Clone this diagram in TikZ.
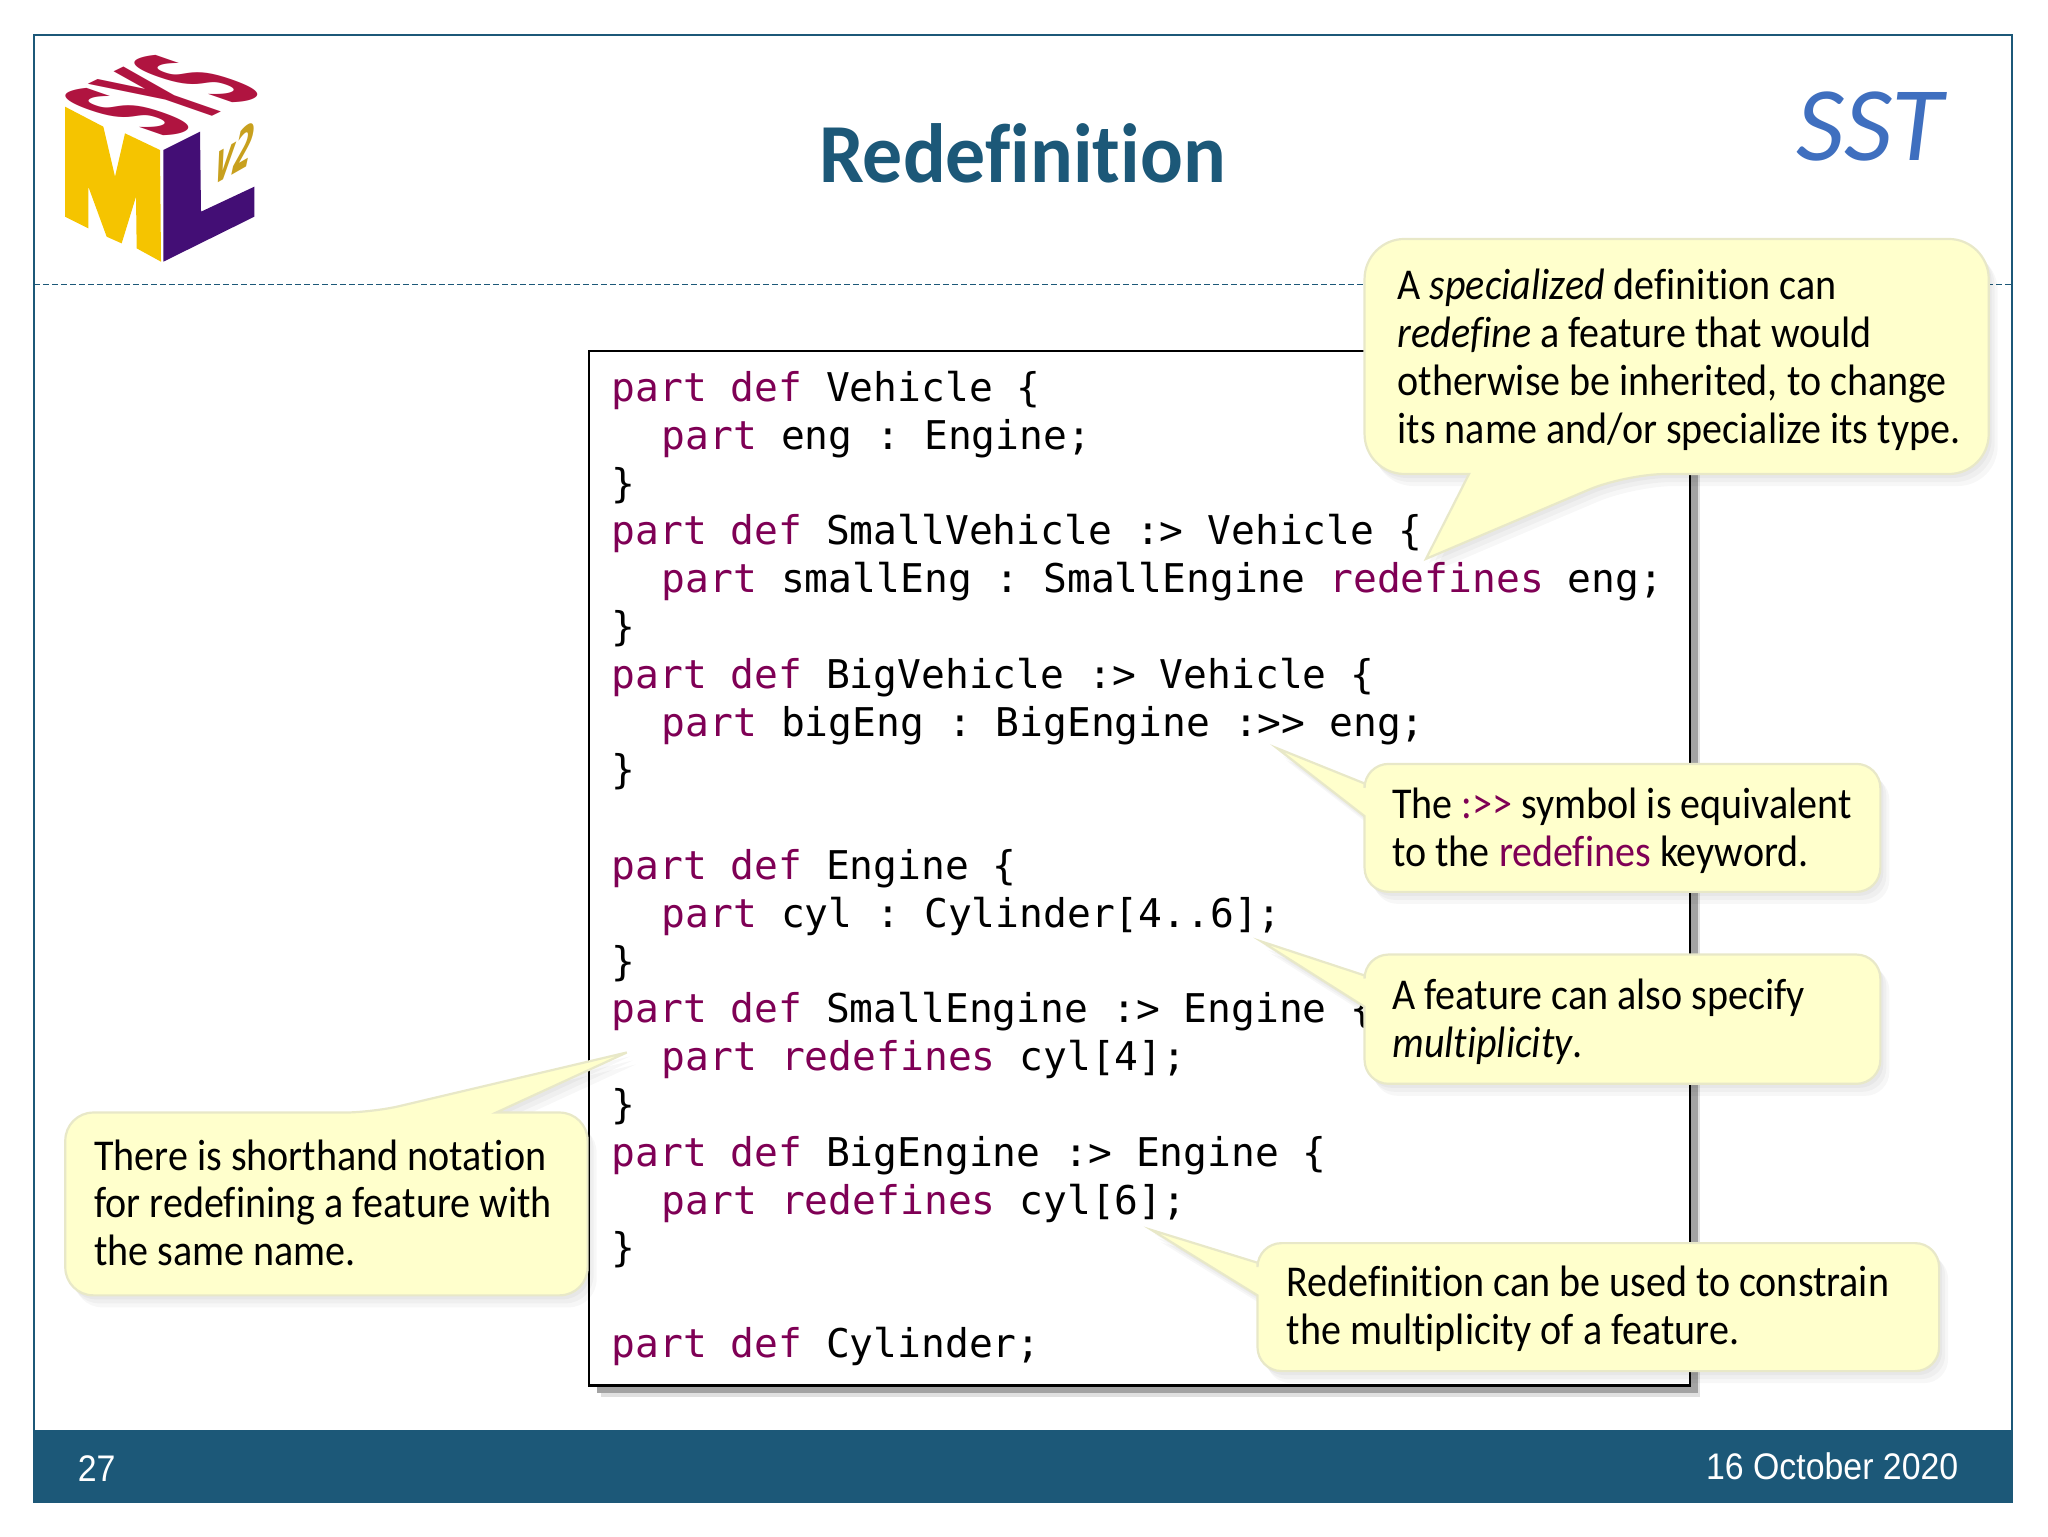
\documentclass[tikz,border=0pt]{standalone}
\usepackage{fontspec}
\setmainfont[Ligatures=NoCommon]{Carlito}
\setmonofont{DejaVu Sans Mono}
\newfontfamily\arialfont[FakeStretch=0.915]{Liberation Sans}
\newfontfamily\heavyfont{DejaVu Sans}
\newfontfamily\tipfont[FakeStretch=0.91,Ligatures=NoCommon]{Carlito}
\newfontfamily\titlefont[FakeStretch=0.95,Ligatures=NoCommon]{Carlito}
\definecolor{teal}{HTML}{1C5878}
\definecolor{kw}{HTML}{7F0055}
\definecolor{tipfill}{HTML}{FFFFCC}
\definecolor{tipedge}{HTML}{E8E8C8}
\definecolor{ssblue}{HTML}{3F6FBF}
\definecolor{mgold}{HTML}{F5C400}
\definecolor{lindigo}{HTML}{430E75}
\newcommand{\kw}[1]{\textcolor{kw}{#1}}
\newlength{\codeunit}\setlength{\codeunit}{0.6529pt}
\newcommand{\ind}{\hspace*{38.6\codeunit}}
\tikzset{
 softshadow/.style={preaction={fill=black,opacity=.03,transform canvas={shift={(1.5pt,-2pt)}}},
   preaction={fill=black,opacity=.03,transform canvas={shift={(3pt,-4pt)}}},
   preaction={fill=black,opacity=.03,transform canvas={shift={(4.5pt,-6pt)}}}},
 tipbox/.style={fill=tipfill,draw=tipedge,line width=1.1pt,softshadow},
 tiptext/.style={anchor=north west,inner sep=0pt,align=left,font=\tipfont\fontsize{22}{23.9}\selectfont,text=black},
}
\begin{document}
\begin{tikzpicture}[x=0.6529pt,y=-0.6529pt]
\useasboundingbox (0,0) rectangle (1568.4,1176.3);
\fill[white] (0,0) rectangle (1568.4,1176.3);
% frame and rule
\draw[teal,line width=1pt] (26,27) rectangle (1541,1150);
\draw[teal,line width=.8pt,dash pattern=on 3pt off 1.5pt] (26,218) -- (1541,218);
\fill[teal] (26,1095) rectangle (1541.5,1150);
\node[font=\arialfont\fontsize{18.5}{20}\selectfont,text=white] (pageno) at (74,1125) {27};
\node[anchor=east,inner sep=0pt,font=\arialfont\fontsize{18.5}{20}\selectfont,text=white] (date) at (1500,1123) {16 October 2020};
% logo
\begin{scope}[scale=0.2553]
 \fill[mgold] (195,320) -- (310,380) -- (345,530) -- (375,400) -- (480,450) -- (483,785) -- (410,745) -- (408,590) -- (365,730) -- (320,710) -- (265,560) -- (265,685) -- (195,650) -- cycle;
 \fill[lindigo] (490,450) -- (600,395) -- (603,635) -- (763,560) -- (763,650) -- (490,785) -- cycle;
\end{scope}
\begin{scope}[shift={(124,73)},cm={1.2,0.58,-3.8,1.32,(0pt,0pt)}]
 \node[transform shape,inner sep=0pt,text={rgb,255:red,176;green,20;blue,64},font=\heavyfont\bfseries\fontsize{20}{20}\selectfont] (sys) at (0,0) {SYS};
\end{scope}
\begin{scope}[shift={(180,117)},cm={0.7,0.4,0.2,1.5,(0pt,0pt)}]
 \node[transform shape,inner sep=0pt,text={rgb,255:red,200;green,160;blue,30},font=\heavyfont\bfseries\itshape\fontsize{20}{20}\selectfont] (vtwo) at (0,0) {v2};
\end{scope}
% title
\node[font=\titlefont\bfseries\fontsize{42}{44}\selectfont,text=teal] (title) at (783,117.5) {Redefinition};
\node[font=\itshape\fontsize{53}{54}\selectfont,text=ssblue] (sst) at (1432,97) {SST};
% code
\fill[black!12] (460,278) rectangle (1302,1070);
\fill[black!36] (457,275) rectangle (1300,1067);
\draw[black,line width=1.1pt,fill=white] (451,269) rectangle (1294,1061);
\node[anchor=north west,inner sep=0pt,align=left,font=\ttfamily\fontsize{19.8}{23.9}\selectfont] (code) at (468,284) {%
\kw{part def} Vehicle \{\\
\ind\kw{part} eng : Engine;\\
\}\\
\kw{part def} SmallVehicle :> Vehicle \{\\
\ind\kw{part} smallEng : SmallEngine \kw{redefines} eng;\\
\}\\
\kw{part def} BigVehicle :> Vehicle \{\\
\ind\kw{part} bigEng : BigEngine :>> eng;\\
\}\\
\mbox{}\\
\kw{part def} Engine \{\\
\ind\kw{part} cyl : Cylinder[4..6];\\
\}\\
\kw{part def} SmallEngine :> Engine \{\\
\ind\kw{part} \kw{redefines} cyl[4];\\
\}\\
\kw{part def} BigEngine :> Engine \{\\
\ind\kw{part} \kw{redefines} cyl[6];\\
\}\\
\mbox{}\\
\kw{part def} Cylinder;};
% callouts
\draw[tipbox,rounded corners=20pt] (1045,183) -- (1523,183) -- (1523,363) -- (1245,363) [sharp corners] -- (1092,428) -- (1125,363) [rounded corners=20pt] -- (1045,363) -- cycle;
\node[tiptext] (t1) at (1070,205.8) {A \textit{specialized} definition can\\\textit{redefine} a feature that would\\otherwise be inherited, to change\\its name and/or specialize its type.};
\draw[tipbox,rounded corners=12pt] (1045,585) -- (1440,585) -- (1440,683) -- (1045,683) [sharp corners] -- (1045,625) -- (978,573) -- (1045,600) [rounded corners=12pt] -- cycle;
\node[tiptext] (t2) at (1066,603.4) {The \kw{:{>}{>}} symbol is equivalent\\to the \kw{redefines} keyword.};
\draw[tipbox,rounded corners=12pt] (1045,731) -- (1440,731) -- (1440,830) -- (1045,830) [sharp corners] -- (1045,771) -- (966,721) -- (1045,747) [rounded corners=12pt] -- cycle;
\node[tiptext] (t3) at (1066,749.4) {A feature can also specify\\\textit{multiplicity}.};
\draw[tipbox,rounded corners=14pt] (50,852) -- (285,852) [sharp corners] -- (480,806) -- (380,852) [rounded corners=14pt] -- (450,852) -- (450,992) -- (50,992) -- cycle;
\node[tiptext] (t4) at (72,872.4) {There is shorthand notation\\for redefining a feature with\\the same name.};
\draw[tipbox,rounded corners=12pt] (963,952) -- (1485,952) -- (1485,1050) -- (963,1050) [sharp corners] -- (963,992) -- (882,942) -- (963,967) [rounded corners=12pt] -- cycle;
\node[tiptext] (t5) at (985,969.4) {Redefinition can be used to constrain\\the multiplicity of a feature.};
\end{tikzpicture}
\end{document}
